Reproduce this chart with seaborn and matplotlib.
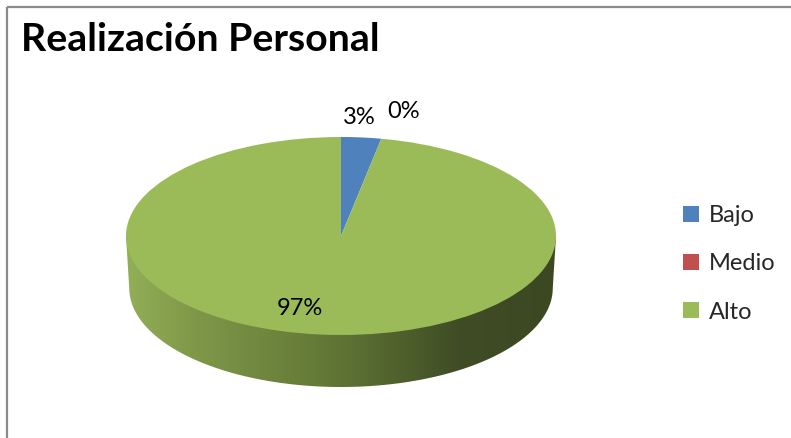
import numpy as np
import matplotlib
matplotlib.use("Agg")
import matplotlib.pyplot as plt
import seaborn as sns
from matplotlib.colors import LinearSegmentedColormap
from matplotlib.patches import Polygon, Rectangle

# Data
categories = ["Bajo", "Medio", "Alto"]
percentages = [3, 0, 97]
slice_colors = ["#4F81BD", "#C0504D", "#9BBB59"]
title = "Realización Personal"

sns.set_theme(style="white")
plt.rcParams["font.family"] = ["Lato", "DejaVu Sans"]

W, H = 791, 438
fig = plt.figure(figsize=(W / 100, H / 100), dpi=100)
fig.patch.set_facecolor("white")

# Outer chart frame (open on the right and bottom edges)
frame_ax = fig.add_axes([0, 0, 1, 1])
frame_ax.set_xlim(0, W)
frame_ax.set_ylim(H, 0)
frame_ax.axis("off")
frame_ax.add_patch(Rectangle((7, 7), W + 20, H + 20, fill=False,
                             edgecolor="#8a8a8a", lw=1.6))
frame_ax.text(21, 51, title, fontsize=28.3, fontweight="bold",
              color="black", ha="left", va="baseline")

# Pie axes: unit circle is squashed into the top-face ellipse
cx, cy, a, b, depth = 341, 236, 215, 99, 52
d = depth / b
left_px, right_px = cx - a, cx + a
top_px, bottom_px = cy - b, cy + b + depth
ax = fig.add_axes([left_px / W, (H - bottom_px) / H,
                   (right_px - left_px) / W, (bottom_px - top_px) / H])

wedges, _ = ax.pie(percentages, colors=slice_colors, startangle=90,
                   counterclock=False, radius=1,
                   wedgeprops=dict(linewidth=0, antialiased=True, zorder=3))
ax.set_aspect("auto")
ax.set_xlim(-1, 1)
ax.set_ylim(-1 - d, 1)
ax.axis("off")

# Front wall of the cylinder with a left-to-right shading gradient
t = np.linspace(np.pi, 2 * np.pi, 200)
shrink = 0.985
wall = np.vstack([
    np.column_stack([shrink * np.cos(t), np.sin(t) - d]),
    [[1, 0], [-1, 0]],
])
clip = Polygon(wall, closed=True, transform=ax.transData, facecolor="none",
               edgecolor="none")
ax.add_patch(clip)
side_cmap = LinearSegmentedColormap.from_list(
    "side", [(0.0, "#93AE58"), (0.15, "#7F9949"), (0.5, "#5F7434"),
             (0.78, "#3F4C25"), (1.0, "#3C4822")])
grad = np.linspace(0, 1, 400).reshape(1, -1)
img = ax.imshow(grad, cmap=side_cmap, extent=(-1, 1, -1 - d, 0),
                aspect="auto", interpolation="bilinear", zorder=1)
img.set_clip_path(clip)
ax.set_xlim(-1, 1)
ax.set_ylim(-1 - d, 1)

# Percentage labels
label_pos = [(0.084, 1.20), (0.293, 1.26), (-0.19, -0.73)]
for p, (lx, ly) in zip(percentages, label_pos):
    ax.text(lx, ly, f"{p}%", fontsize=17, color="black",
            ha="center", va="center", zorder=5, clip_on=False)

# Legend
leg = fig.legend(wedges, categories, loc="center left",
                 bbox_to_anchor=(683 / W, 1 - 264 / H), frameon=False,
                 fontsize=17, handlelength=0.66, handleheight=0.66,
                 handletextpad=0.42, labelspacing=1.15, borderpad=0,
                 borderaxespad=0)

fig.savefig("out.png", dpi=100, facecolor="white")
